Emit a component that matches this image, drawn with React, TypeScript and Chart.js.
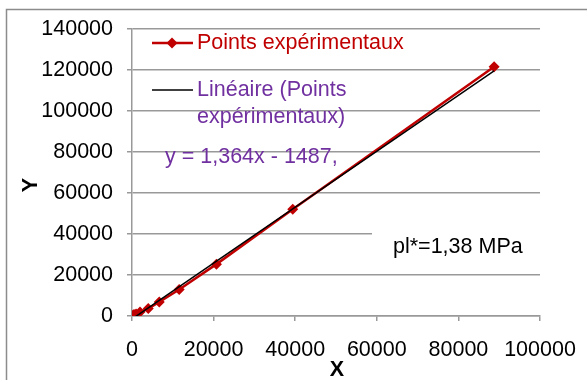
import React, { useEffect, useRef } from "react";
import { Chart, registerables } from "chart.js";

Chart.register(...registerables);

const xValues = [0, 250, 490, 1000, 1960, 3990, 6680, 11570, 20700, 39400, 88750];
const yValues = [0, 300, 680, 1000, 1960, 3600, 6840, 12900, 25300, 52100, 121600];
const seriesLabel = "Points expérimentaux";
const trendLabel = ["Linéaire (Points", "expérimentaux)"];
const slope = 1.364;
const intercept = -1487;
const equationText = "y = 1,364x - 1487,";
const noteText = "pl*=1,38 MPa";
const xTitle = "X";
const yTitle = "Y";

const FONT = "Arial, 'Liberation Sans', sans-serif";
const FS = 21.5;
const RED = "#C00000";
const PURPLE = "#7030A0";
const GRID = "#999999";

export default function App() {
  const ref = useRef<HTMLCanvasElement | null>(null);

  useEffect(() => {
    if (!ref.current) return;
    const xMin = Math.min(...xValues);
    const xMax = Math.max(...xValues);
    const trend = [
      { x: xMin, y: slope * xMin + intercept },
      { x: xMax, y: slope * xMax + intercept },
    ];
    const points = xValues.map((x, i) => ({ x, y: yValues[i] }));

    const overlay = {
      id: "overlay",
      beforeDraw(chart: any) {
        const ctx = chart.ctx;
        ctx.save();
        ctx.fillStyle = "#fff";
        ctx.fillRect(0, 0, chart.width, chart.height);
        ctx.strokeStyle = "#8c8c8c";
        ctx.lineWidth = 1.5;
        ctx.strokeRect(6.5, 9.5, 700, 500);
        ctx.restore();
      },
      beforeDatasetsDraw(chart: any) {
        const ctx = chart.ctx;
        ctx.save();
        ctx.fillStyle = "#fff";
        ctx.fillRect(372, 226, 170, 40);
        ctx.restore();
      },
      afterDraw(chart: any) {
        const ctx = chart.ctx;
        ctx.save();
        ctx.font = `${FS}px ${FONT}`;
        ctx.textBaseline = "middle";
        ctx.textAlign = "left";
        // legend entry 1
        ctx.strokeStyle = RED;
        ctx.lineWidth = 2.5;
        ctx.beginPath();
        ctx.moveTo(152, 43);
        ctx.lineTo(193, 43);
        ctx.stroke();
        ctx.fillStyle = RED;
        ctx.beginPath();
        ctx.moveTo(172, 37.5);
        ctx.lineTo(177.5, 43);
        ctx.lineTo(172, 48.5);
        ctx.lineTo(166.5, 43);
        ctx.closePath();
        ctx.fill();
        ctx.fillText(seriesLabel, 197, 43);
        // legend entry 2
        ctx.strokeStyle = "#000";
        ctx.lineWidth = 1.5;
        ctx.beginPath();
        ctx.moveTo(152, 90);
        ctx.lineTo(193, 90);
        ctx.stroke();
        ctx.fillStyle = PURPLE;
        ctx.fillText(trendLabel[0], 197, 90);
        ctx.fillText(trendLabel[1], 197, 117);
        ctx.fillText(equationText, 165, 157);
        ctx.fillStyle = "#000";
        ctx.fillText(noteText, 393, 247);
        // axis titles
        ctx.font = `bold ${FS}px ${FONT}`;
        ctx.textAlign = "center";
        ctx.fillText(xTitle, 337, 370);
        ctx.translate(31, 185);
        ctx.rotate(-Math.PI / 2);
        ctx.fillText(yTitle, 0, 0);
        ctx.restore();
      },
    };

    const chart = new Chart(ref.current, {
      type: "scatter",
      data: {
        datasets: [
          {
            label: seriesLabel,
            data: points,
            showLine: true,
            borderColor: RED,
            backgroundColor: RED,
            borderWidth: 2.5,
            pointStyle: "rectRot",
            pointRadius: 5.5,
            pointBorderWidth: 0,
            order: 2,
          },
          {
            label: "trend",
            data: trend,
            showLine: true,
            borderColor: "#000",
            borderWidth: 1.5,
            pointRadius: 0,
            order: 1,
          },
        ],
      },
      options: {
        responsive: false,
        animation: false,
        devicePixelRatio: 1,
        layout: { padding: { left: 0, top: 29, right: 47, bottom: 0 } },
        plugins: { legend: { display: false }, tooltip: { enabled: false } },
        scales: {
          x: {
            type: "linear",
            min: 0,
            max: 100000,
            afterFit: (s: any) => {
              s.height = 64;
              s.paddingLeft = 0;
              s.paddingRight = 0;
            },
            ticks: {
              stepSize: 20000,
              color: "#000",
              font: { family: FONT, size: FS },
              padding: 16,
              maxRotation: 0,
              callback: (v: any) => String(v),
            },
            grid: {
              drawOnChartArea: false,
              drawTicks: true,
              tickLength: 5,
              color: GRID,
              lineWidth: 1.5,
            },
            border: { color: GRID, width: 1.5 },
          },
          y: {
            type: "linear",
            min: 0,
            max: 140000,
            afterFit: (s: any) => {
              s.width = 132;
              s.paddingTop = 0;
              s.paddingBottom = 0;
            },
            ticks: {
              stepSize: 20000,
              color: "#000",
              font: { family: FONT, size: FS },
              padding: 14,
              callback: (v: any) => String(v),
            },
            grid: {
              drawOnChartArea: true,
              drawTicks: true,
              tickLength: 5,
              color: GRID,
              lineWidth: 1.5,
            },
            border: { color: GRID, width: 1.5 },
          },
        },
      },
      plugins: [overlay],
    });
    return () => chart.destroy();
  }, []);

  return (
    <div style={{ position: "absolute", left: 0, top: 0, width: 587, height: 380 }}>
      <canvas ref={ref} width={587} height={380} style={{ display: "block" }} />
    </div>
  );
}
